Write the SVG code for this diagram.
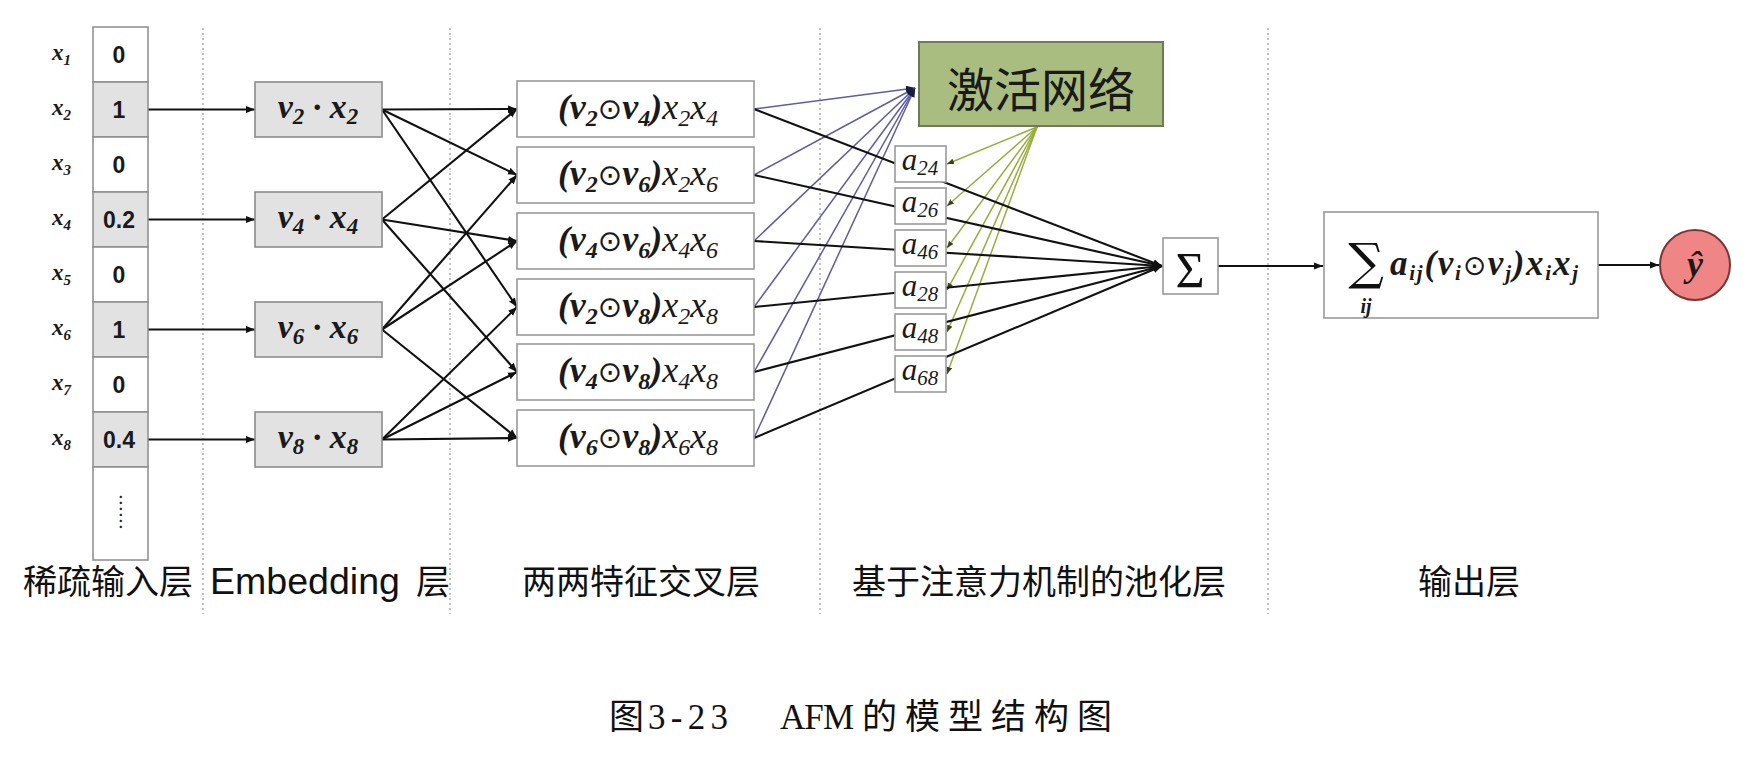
<svg xmlns="http://www.w3.org/2000/svg" width="1743" height="759" viewBox="0 0 1743 759">
<defs>
<style>
.sep{stroke:#9a9a9a;stroke-width:1.2;stroke-dasharray:2 3;fill:none}
.cell{fill:#fff;stroke:#8c8c8c;stroke-width:1.5}
.cellg{fill:#e2e2e2;stroke:#8c8c8c;stroke-width:1.5}
.emb{fill:#e2e2e2;stroke:#8c8c8c;stroke-width:1.6}
.box{fill:#fff;stroke:#9a9a9a;stroke-width:1.6}
.act{fill:#a9bd80;stroke:#6f7a58;stroke-width:2}
.out{fill:#f08585;stroke:#7a3535;stroke-width:2}
.k{stroke:#111;stroke-width:2.1;fill:none}
.bl{stroke:#5c5ca8;stroke-width:1.5;fill:none}
.gr{stroke:#98ad3c;stroke-width:1.5;fill:none}
.m{font-family:"Liberation Serif","DejaVu Serif",serif;font-style:italic;fill:#1a1a1a}
.b{font-weight:bold}
.op{font-family:"DejaVu Sans",sans-serif;font-style:normal;font-weight:normal}
.val{font-family:"Liberation Sans",Arial,sans-serif;font-weight:bold;font-size:23px;fill:#1a1a1a;text-anchor:middle}
.lab{font-family:"Noto Sans CJK SC",sans-serif;font-size:34px;fill:#111;dominant-baseline:central}
.eng{font-family:"Liberation Sans",Arial,sans-serif;font-size:36px;fill:#111}
.cap{font-family:"Liberation Serif","Noto Sans CJK SC",serif;font-size:35px;fill:#111}
</style>
<marker id="ak" viewBox="0 0 10 10" refX="10" refY="5" markerWidth="9" markerHeight="9" markerUnits="userSpaceOnUse" orient="auto"><path d="M0,1 L10,5 L0,9 z" fill="#111"/></marker>
<marker id="ab" viewBox="0 0 10 10" refX="10" refY="5" markerWidth="9" markerHeight="9" markerUnits="userSpaceOnUse" orient="auto"><path d="M0,1 L10,5 L0,9 z" fill="#1c1c3c"/></marker>
<marker id="ag" viewBox="0 0 10 10" refX="10" refY="5" markerWidth="7" markerHeight="7" markerUnits="userSpaceOnUse" orient="auto"><path d="M0,1 L10,5 L0,9 z" fill="#3a4418"/></marker>
</defs>
<rect width="1743" height="759" fill="#fff"/>

<g id="separators">
<line class="sep" x1="203" y1="28" x2="203" y2="614"/>
<line class="sep" x1="450" y1="28" x2="450" y2="614"/>
<line class="sep" x1="820" y1="28" x2="820" y2="614"/>
<line class="sep" x1="1268" y1="28" x2="1268" y2="614"/>
</g>

<g id="connectors">
<g id="input-to-embedding">
<line class="k" x1="148" y1="109.5" x2="255" y2="109.5" marker-end="url(#ak)"/>
<line class="k" x1="148" y1="219.5" x2="255" y2="219.5" marker-end="url(#ak)"/>
<line class="k" x1="148" y1="329.5" x2="255" y2="329.5" marker-end="url(#ak)"/>
<line class="k" x1="148" y1="439.5" x2="255" y2="439.5" marker-end="url(#ak)"/>
</g>
<g id="embedding-to-cross">
<line class="k" x1="382" y1="109.5" x2="517" y2="109" marker-end="url(#ak)"/>
<line class="k" x1="382" y1="109.5" x2="517" y2="175" marker-end="url(#ak)"/>
<line class="k" x1="382" y1="109.5" x2="517" y2="307" marker-end="url(#ak)"/>
<line class="k" x1="382" y1="219.5" x2="517" y2="109" marker-end="url(#ak)"/>
<line class="k" x1="382" y1="219.5" x2="517" y2="241" marker-end="url(#ak)"/>
<line class="k" x1="382" y1="219.5" x2="517" y2="372" marker-end="url(#ak)"/>
<line class="k" x1="382" y1="329.5" x2="517" y2="175" marker-end="url(#ak)"/>
<line class="k" x1="382" y1="329.5" x2="517" y2="241" marker-end="url(#ak)"/>
<line class="k" x1="382" y1="329.5" x2="517" y2="438" marker-end="url(#ak)"/>
<line class="k" x1="382" y1="439.5" x2="517" y2="307" marker-end="url(#ak)"/>
<line class="k" x1="382" y1="439.5" x2="517" y2="372" marker-end="url(#ak)"/>
<line class="k" x1="382" y1="439.5" x2="517" y2="438" marker-end="url(#ak)"/>
</g>
<g id="cross-to-activation">
<line class="bl" x1="754" y1="109" x2="915" y2="88" marker-end="url(#ab)"/>
<line class="bl" x1="754" y1="175" x2="915" y2="88" marker-end="url(#ab)"/>
<line class="bl" x1="754" y1="241" x2="915" y2="88" marker-end="url(#ab)"/>
<line class="bl" x1="754" y1="307" x2="915" y2="88" marker-end="url(#ab)"/>
<line class="bl" x1="754" y1="372" x2="915" y2="88" marker-end="url(#ab)"/>
<line class="bl" x1="754" y1="438" x2="915" y2="88" marker-end="url(#ab)"/>
</g>
<g id="activation-to-attention">
<line class="gr" x1="1037" y1="127" x2="947" y2="164" marker-end="url(#ag)"/>
<line class="gr" x1="1037" y1="127" x2="947" y2="206" marker-end="url(#ag)"/>
<line class="gr" x1="1037" y1="127" x2="947" y2="248" marker-end="url(#ag)"/>
<line class="gr" x1="1037" y1="127" x2="947" y2="290" marker-end="url(#ag)"/>
<line class="gr" x1="1037" y1="127" x2="947" y2="332" marker-end="url(#ag)"/>
<line class="gr" x1="1037" y1="127" x2="947" y2="374" marker-end="url(#ag)"/>
</g>
<g id="cross-to-sum">
<line class="k" x1="754" y1="109" x2="1162" y2="266" marker-end="url(#ak)"/>
<line class="k" x1="754" y1="175" x2="1162" y2="266" marker-end="url(#ak)"/>
<line class="k" x1="754" y1="241" x2="1162" y2="266" marker-end="url(#ak)"/>
<line class="k" x1="754" y1="307" x2="1162" y2="266" marker-end="url(#ak)"/>
<line class="k" x1="754" y1="372" x2="1162" y2="266" marker-end="url(#ak)"/>
<line class="k" x1="754" y1="438" x2="1162" y2="266" marker-end="url(#ak)"/>
</g>
<line class="k" x1="1218" y1="266" x2="1323" y2="266" marker-end="url(#ak)"/>
<line class="k" x1="1598" y1="265" x2="1659" y2="265" marker-end="url(#ak)"/>
</g>

<g id="input-layer">
<rect class="cell" x="93" y="27" width="55" height="55"/>
<rect class="cellg" x="93" y="82" width="55" height="55"/>
<rect class="cell" x="93" y="137" width="55" height="55"/>
<rect class="cellg" x="93" y="192" width="55" height="55"/>
<rect class="cell" x="93" y="247" width="55" height="55"/>
<rect class="cellg" x="93" y="302" width="55" height="55"/>
<rect class="cell" x="93" y="357" width="55" height="55"/>
<rect class="cellg" x="93" y="412" width="55" height="55"/>
<rect class="cell" x="93" y="467" width="55" height="93"/>
<text class="val" x="119" y="63">0</text>
<text class="val" x="119" y="118">1</text>
<text class="val" x="119" y="173">0</text>
<text class="val" x="119" y="228">0.2</text>
<text class="val" x="119" y="283">0</text>
<text class="val" x="119" y="338">1</text>
<text class="val" x="119" y="393">0</text>
<text class="val" x="119" y="448">0.4</text>
<text font-family="Noto Sans CJK SC, sans-serif" font-size="18" fill="#222" text-anchor="middle" dominant-baseline="central" transform="translate(122 512) rotate(90)">……</text>
<g class="m b" font-size="23">
<text x="52" y="60">x<tspan font-size="15" dy="5">1</tspan></text>
<text x="52" y="115">x<tspan font-size="15" dy="5">2</tspan></text>
<text x="52" y="170">x<tspan font-size="15" dy="5">3</tspan></text>
<text x="52" y="225">x<tspan font-size="15" dy="5">4</tspan></text>
<text x="52" y="280">x<tspan font-size="15" dy="5">5</tspan></text>
<text x="52" y="335">x<tspan font-size="15" dy="5">6</tspan></text>
<text x="52" y="390">x<tspan font-size="15" dy="5">7</tspan></text>
<text x="52" y="445">x<tspan font-size="15" dy="5">8</tspan></text>
</g>
</g>

<g id="embedding-layer">
<g id="emb-v2"><rect class="emb" x="255" y="82" width="127" height="55"/>
<text class="m b" x="318" y="118" font-size="34" text-anchor="middle">v<tspan font-size="23" dy="6">2</tspan><tspan dy="-6"> · x</tspan><tspan font-size="23" dy="6">2</tspan></text></g>
<g id="emb-v4"><rect class="emb" x="255" y="192" width="127" height="55"/>
<text class="m b" x="318" y="228" font-size="34" text-anchor="middle">v<tspan font-size="23" dy="6">4</tspan><tspan dy="-6"> · x</tspan><tspan font-size="23" dy="6">4</tspan></text></g>
<g id="emb-v6"><rect class="emb" x="255" y="302" width="127" height="55"/>
<text class="m b" x="318" y="338" font-size="34" text-anchor="middle">v<tspan font-size="23" dy="6">6</tspan><tspan dy="-6"> · x</tspan><tspan font-size="23" dy="6">6</tspan></text></g>
<g id="emb-v8"><rect class="emb" x="255" y="412" width="127" height="55"/>
<text class="m b" x="318" y="448" font-size="34" text-anchor="middle">v<tspan font-size="23" dy="6">8</tspan><tspan dy="-6"> · x</tspan><tspan font-size="23" dy="6">8</tspan></text></g>
</g>

<g id="cross-layer">
<g id="cross-24"><rect class="box" x="517" y="81" width="237" height="56"/>
<text class="m" x="638" y="119" font-size="36" text-anchor="middle"><tspan class="b">(v</tspan><tspan class="b" font-size="24" dy="7">2</tspan><tspan class="op" font-size="29" dy="-7">⊙</tspan><tspan class="b">v</tspan><tspan class="b" font-size="24" dy="7">4</tspan><tspan class="b" dy="-7">)</tspan>x<tspan font-size="24" dy="7">2</tspan><tspan dy="-7">x</tspan><tspan font-size="24" dy="7">4</tspan></text></g>
<g id="cross-26"><rect class="box" x="517" y="147" width="237" height="56"/>
<text class="m" x="638" y="185" font-size="36" text-anchor="middle"><tspan class="b">(v</tspan><tspan class="b" font-size="24" dy="7">2</tspan><tspan class="op" font-size="29" dy="-7">⊙</tspan><tspan class="b">v</tspan><tspan class="b" font-size="24" dy="7">6</tspan><tspan class="b" dy="-7">)</tspan>x<tspan font-size="24" dy="7">2</tspan><tspan dy="-7">x</tspan><tspan font-size="24" dy="7">6</tspan></text></g>
<g id="cross-46"><rect class="box" x="517" y="213" width="237" height="56"/>
<text class="m" x="638" y="251" font-size="36" text-anchor="middle"><tspan class="b">(v</tspan><tspan class="b" font-size="24" dy="7">4</tspan><tspan class="op" font-size="29" dy="-7">⊙</tspan><tspan class="b">v</tspan><tspan class="b" font-size="24" dy="7">6</tspan><tspan class="b" dy="-7">)</tspan>x<tspan font-size="24" dy="7">4</tspan><tspan dy="-7">x</tspan><tspan font-size="24" dy="7">6</tspan></text></g>
<g id="cross-28"><rect class="box" x="517" y="279" width="237" height="56"/>
<text class="m" x="638" y="317" font-size="36" text-anchor="middle"><tspan class="b">(v</tspan><tspan class="b" font-size="24" dy="7">2</tspan><tspan class="op" font-size="29" dy="-7">⊙</tspan><tspan class="b">v</tspan><tspan class="b" font-size="24" dy="7">8</tspan><tspan class="b" dy="-7">)</tspan>x<tspan font-size="24" dy="7">2</tspan><tspan dy="-7">x</tspan><tspan font-size="24" dy="7">8</tspan></text></g>
<g id="cross-48"><rect class="box" x="517" y="344" width="237" height="56"/>
<text class="m" x="638" y="382" font-size="36" text-anchor="middle"><tspan class="b">(v</tspan><tspan class="b" font-size="24" dy="7">4</tspan><tspan class="op" font-size="29" dy="-7">⊙</tspan><tspan class="b">v</tspan><tspan class="b" font-size="24" dy="7">8</tspan><tspan class="b" dy="-7">)</tspan>x<tspan font-size="24" dy="7">4</tspan><tspan dy="-7">x</tspan><tspan font-size="24" dy="7">8</tspan></text></g>
<g id="cross-68"><rect class="box" x="517" y="410" width="237" height="56"/>
<text class="m" x="638" y="448" font-size="36" text-anchor="middle"><tspan class="b">(v</tspan><tspan class="b" font-size="24" dy="7">6</tspan><tspan class="op" font-size="29" dy="-7">⊙</tspan><tspan class="b">v</tspan><tspan class="b" font-size="24" dy="7">8</tspan><tspan class="b" dy="-7">)</tspan>x<tspan font-size="24" dy="7">6</tspan><tspan dy="-7">x</tspan><tspan font-size="24" dy="7">8</tspan></text></g>
</g>

<g id="activation-network">
<rect class="act" x="919" y="42" width="244" height="84"/>
<text x="1041" y="86" font-family="Noto Sans CJK SC, sans-serif" font-size="47" fill="#1a1a1a" text-anchor="middle" dominant-baseline="central">激活网络</text>
</g>

<g id="attention-weights">
<g id="a24"><rect class="box" x="895" y="146" width="51" height="36"/><text class="m" x="920" y="170" font-size="31" text-anchor="middle">a<tspan font-size="21" dy="5">24</tspan></text></g>
<g id="a26"><rect class="box" x="895" y="188" width="51" height="36"/><text class="m" x="920" y="212" font-size="31" text-anchor="middle">a<tspan font-size="21" dy="5">26</tspan></text></g>
<g id="a46"><rect class="box" x="895" y="230" width="51" height="36"/><text class="m" x="920" y="254" font-size="31" text-anchor="middle">a<tspan font-size="21" dy="5">46</tspan></text></g>
<g id="a28"><rect class="box" x="895" y="272" width="51" height="36"/><text class="m" x="920" y="296" font-size="31" text-anchor="middle">a<tspan font-size="21" dy="5">28</tspan></text></g>
<g id="a48"><rect class="box" x="895" y="314" width="51" height="36"/><text class="m" x="920" y="338" font-size="31" text-anchor="middle">a<tspan font-size="21" dy="5">48</tspan></text></g>
<g id="a68"><rect class="box" x="895" y="356" width="51" height="36"/><text class="m" x="920" y="380" font-size="31" text-anchor="middle">a<tspan font-size="21" dy="5">68</tspan></text></g>
</g>

<g id="sum-node">
<rect class="box" x="1163" y="238" width="55" height="56"/>
<text x="1190" y="287" font-family="Liberation Serif, DejaVu Serif, serif" font-size="50" fill="#111" text-anchor="middle">Σ</text>
</g>

<g id="output-formula">
<rect class="box" x="1324" y="212" width="274" height="106"/>
<text x="1366" y="279" font-family="DejaVu Serif, serif" font-size="50" fill="#111" text-anchor="middle">∑</text>
<text class="m b" x="1366" y="313" font-size="20" text-anchor="middle">ij</text>
<text class="m b" x="1390" y="275" font-size="35" textLength="188" lengthAdjust="spacing">a<tspan font-size="21" dy="5">ij</tspan><tspan dy="-5">(v</tspan><tspan font-size="21" dy="5">i</tspan><tspan class="op" font-size="28" dy="-5">⊙</tspan>v<tspan font-size="21" dy="5">j</tspan><tspan dy="-5">)x</tspan><tspan font-size="21" dy="5">i</tspan><tspan dy="-5">x</tspan><tspan font-size="21" dy="5">j</tspan></text>
</g>

<g id="output-node">
<circle class="out" cx="1695" cy="265" r="35"/>
<text class="m b" x="1695" y="276" font-size="36" text-anchor="middle">ŷ</text>
</g>

<g id="layer-labels">
<text class="lab" x="23" y="579">稀疏输入层</text>
<text class="eng" x="210" y="594" textLength="190" lengthAdjust="spacingAndGlyphs">Embedding</text>
<text class="lab" x="416" y="579">层</text>
<text class="lab" x="522" y="579">两两特征交叉层</text>
<text class="lab" x="852" y="579">基于注意力机制的池化层</text>
<text class="lab" x="1418" y="579">输出层</text>
</g>

<g id="caption">
<text class="cap" x="609" y="729">图</text>
<text class="cap" x="648" y="729" textLength="80" lengthAdjust="spacing">3-23</text>
<text class="cap" x="780" y="729" textLength="74" lengthAdjust="spacing">AFM</text>
<text class="cap" x="862" y="729" textLength="250" lengthAdjust="spacing">的模型结构图</text>
</g>
</svg>
